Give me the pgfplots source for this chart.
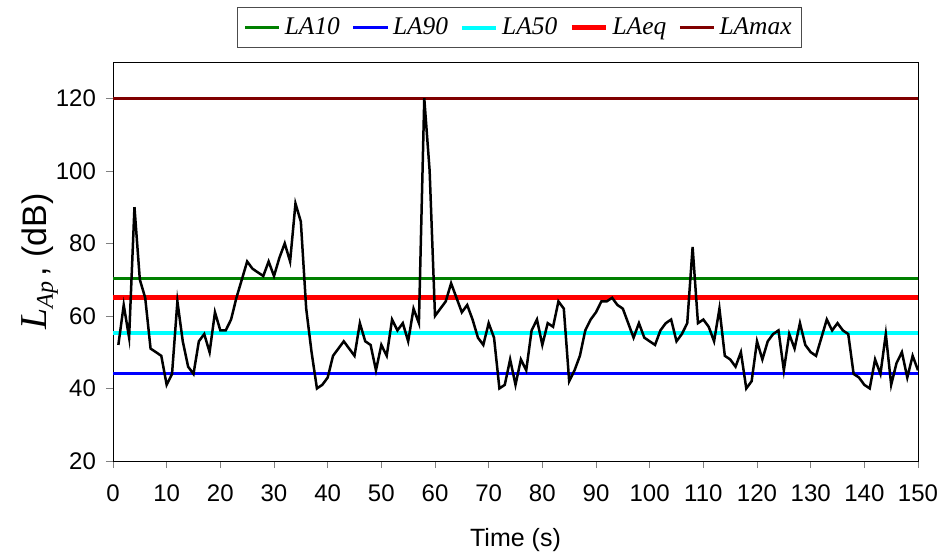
\documentclass[border=0pt]{standalone}
\usepackage{fontspec}
\setmainfont{Liberation Sans}
\newfontfamily\timesfont{Liberation Serif}
\usepackage{pgfplots}
\pgfplotsset{compat=1.18}

\begin{document}
\begin{tikzpicture}
\begin{axis}[
  scale only axis,
  width=402.5pt, height=199.5pt,
  xmin=0, xmax=150, ymin=20, ymax=130,
  xtick={0,10,...,150},
  ytick={20,40,...,120},
  tick align=outside,
  tick pos=left,
  major tick length=3.5pt,
  /pgf/number format/assume math mode=true,
  tick label style={font=\fontsize{12}{14}\selectfont},
  xticklabel style={yshift=-5pt},
  yticklabel style={xshift=-1.5pt},
  xlabel={Time (s)},
  xlabel style={font=\fontsize{12.5}{15}\selectfont, at={(axis description cs:0.5,-0.198)}, anchor=center},
  ylabel={{\timesfont\itshape\fontsize{19}{20}\selectfont L\raisebox{-0.35ex}{\fontsize{12}{12}\selectfont Ap}}\,, (dB)},
  ylabel style={font=\fontsize{17}{20}\selectfont, at={(axis description cs:-0.0907,0.5)}, anchor=center},
  axis line style={black},
  legend columns=5,
  legend style={at={(0.505,1.035)}, anchor=south, draw=black!70,
    font=\timesfont\itshape\fontsize{12.7}{15}\selectfont,
    /tikz/every even column/.append style={column sep=4pt},
    inner xsep=3pt, inner ysep=3pt},
]
\addplot[color={rgb,255:red,0;green,128;blue,0}, line width=1.6pt] coordinates {(0,70.3)(150,70.3)};
\addlegendentry{LA10}
\addplot[color={rgb,255:red,0;green,0;blue,255}, line width=1.5pt] coordinates {(0,44)(150,44)};
\addlegendentry{LA90}
\addplot[color={rgb,255:red,0;green,255;blue,255}, line width=2pt] coordinates {(0,55.3)(150,55.3)};
\addlegendentry{LA50}
\addplot[color={rgb,255:red,255;green,0;blue,0}, line width=2.6pt] coordinates {(0,65.1)(150,65.1)};
\addlegendentry{LAeq}
\addplot[color={rgb,255:red,128;green,0;blue,0}, line width=1.6pt] coordinates {(0,120)(150,120)};
\addlegendentry{LAmax}
\addplot[black, line width=1.25pt, forget plot] coordinates {
(1,52)(2,63)(3,54)(4,90)(5,70)(6,65)(7,51)(8,50)(9,49)(10,41)
(11,44)(12,64)(13,53)(14,46)(15,44)(16,53)(17,55)(18,50)(19,61)(20,56)
(21,56)(22,59)(23,65)(24,70)(25,75)(26,73)(27,72)(28,71)(29,75)(30,71)
(31,76)(32,80)(33,75)(34,91)(35,86)(36,62)(37,50)(38,40)(39,41)(40,43)
(41,49)(42,51)(43,53)(44,51)(45,49)(46,58)(47,53)(48,52)(49,45)(50,52)
(51,49)(52,59)(53,56)(54,58)(55,53)(56,62)(57,58)(58,120)(59,100)(60,60)
(61,62)(62,64)(63,69)(64,65)(65,61)(66,63)(67,59)(68,54)(69,52)(70,58)
(71,54)(72,40)(73,41)(74,48)(75,41)(76,48)(77,45)(78,56)(79,59)(80,52)
(81,58)(82,57)(83,64)(84,62)(85,42)(86,45)(87,49)(88,56)(89,59)(90,61)
(91,64)(92,64)(93,65)(94,63)(95,62)(96,58)(97,54)(98,58)(99,54)(100,53)
(101,52)(102,56)(103,58)(104,59)(105,53)(106,55)(107,58)(108,79)(109,58)(110,59)
(111,57)(112,53)(113,62)(114,49)(115,48)(116,46)(117,50)(118,40)(119,42)(120,53)
(121,48)(122,53)(123,55)(124,56)(125,45)(126,55)(127,51)(128,58)(129,52)(130,50)
(131,49)(132,54)(133,59)(134,56)(135,58)(136,56)(137,55)(138,44)(139,43)(140,41)
(141,40)(142,48)(143,44)(144,55)(145,41)(146,47)(147,50)(148,43)(149,49)(150,45)
};
\end{axis}
\pgfresetboundingbox
\path ([xshift=-56.5pt,yshift=-47pt]current axis.south west) rectangle ([xshift=10.5pt,yshift=31pt]current axis.north east);
\end{tikzpicture}
\end{document}
